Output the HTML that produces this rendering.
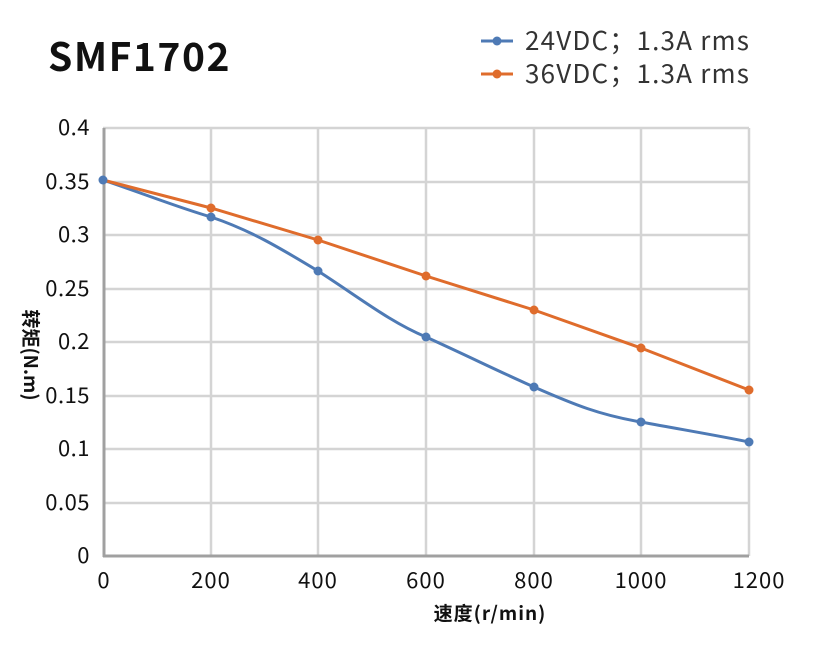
<!DOCTYPE html>
<html><head><meta charset="utf-8"><style>
body{margin:0;background:#fff;width:831px;height:640px;overflow:hidden}
svg text{font-family:"Noto Sans CJK SC","Liberation Sans",sans-serif}
</style></head><body>
<svg width="831" height="640" xmlns="http://www.w3.org/2000/svg">
<g stroke="#d4d4d4" stroke-width="2.5" fill="none">
<line x1="103" y1="128" x2="749" y2="128"/><line x1="103" y1="182" x2="749" y2="182"/>
<line x1="103" y1="235" x2="749" y2="235"/><line x1="103" y1="289" x2="749" y2="289"/>
<line x1="103" y1="342" x2="749" y2="342"/><line x1="103" y1="396" x2="749" y2="396"/>
<line x1="103" y1="449" x2="749" y2="449"/><line x1="103" y1="503" x2="749" y2="503"/>
<line x1="211" y1="128" x2="211" y2="556"/><line x1="318" y1="128" x2="318" y2="556"/>
<line x1="426" y1="128" x2="426" y2="556"/><line x1="534" y1="128" x2="534" y2="556"/>
<line x1="641" y1="128" x2="641" y2="556"/><line x1="749" y1="128" x2="749" y2="556"/>
</g>
<line x1="104" y1="128" x2="104" y2="557" stroke="#a0a0a0" stroke-width="3"/>
<line x1="103" y1="556" x2="749" y2="556" stroke="#a0a0a0" stroke-width="3"/>
<g font-size="22" fill="#111" text-anchor="end" letter-spacing="0.5">
<text x="90" y="135">0.4</text><text x="90" y="189">0.35</text><text x="90" y="242">0.3</text>
<text x="90" y="296">0.25</text><text x="90" y="349">0.2</text><text x="90" y="403">0.15</text>
<text x="90" y="456">0.1</text><text x="90" y="510">0.05</text><text x="90" y="563">0</text>
</g>
<g font-size="22" fill="#111" text-anchor="middle" letter-spacing="1">
<text x="104" y="588">0</text><text x="211" y="588">200</text><text x="318" y="588">400</text>
<text x="426" y="588">600</text><text x="534" y="588">800</text><text x="641" y="588">1000</text><text x="759" y="588">1200</text>
</g>
<text x="490" y="620" font-size="19" font-weight="bold" text-anchor="middle" fill="#111" letter-spacing="1">速度(r/min)</text>
<text transform="translate(24,355) rotate(90)" font-size="19" font-weight="bold" text-anchor="middle" fill="#111">转矩(N.m)</text>
<text x="48" y="71" font-size="39" font-weight="bold" fill="#111" letter-spacing="1.5">SMF1702</text>
<path d="M103,180 C150,196 180,208 211,217 C250,230 280,248 318,271 C360,298 390,322 426,337 C470,357 500,372 534,387 C575,405 600,415 641,422 C690,431 720,436 749,442" stroke="#4e7ab5" stroke-width="3" fill="none"/>
<polyline points="103,180 211,208 318,240 426,276 534,310 641,348 749,390" stroke="#df6c2c" stroke-width="3" fill="none"/>
<g fill="#4e7ab5"><circle cx="211" cy="217" r="4.5"/><circle cx="318" cy="271" r="4.5"/><circle cx="426" cy="337" r="4.5"/><circle cx="534" cy="387" r="4.5"/><circle cx="641" cy="422" r="4.5"/><circle cx="749" cy="442" r="4.5"/></g>
<g fill="#df6c2c"><circle cx="211" cy="208" r="4.5"/><circle cx="318" cy="240" r="4.5"/><circle cx="426" cy="276" r="4.5"/><circle cx="534" cy="310" r="4.5"/><circle cx="641" cy="348" r="4.5"/><circle cx="749" cy="390" r="4.5"/></g>
<circle cx="103" cy="180" r="4.5" fill="#4e7ab5"/>
<line x1="481" y1="41" x2="513" y2="41" stroke="#4e7ab5" stroke-width="3"/><circle cx="497" cy="41" r="4.5" fill="#4e7ab5"/>
<line x1="481" y1="74" x2="513" y2="74" stroke="#df6c2c" stroke-width="3"/><circle cx="497" cy="74" r="4.5" fill="#df6c2c"/>
<g font-size="26" fill="#333" letter-spacing="1.2"><text x="525" y="50">24VDC；1.3A rms</text><text x="525" y="83">36VDC；1.3A rms</text></g>
</svg>
</body></html>
